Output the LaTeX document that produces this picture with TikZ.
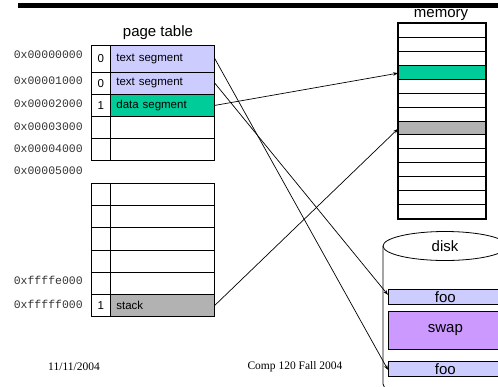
\documentclass[tikz,border=0pt]{standalone}
\usepackage{fontspec}
\setmainfont{Liberation Sans}
\newfontfamily\addrfont{Liberation Mono}
\newfontfamily\footfont{Liberation Serif}
\usepackage{tikz}
\usetikzlibrary{arrows.meta}
\definecolor{textseg}{RGB}{204,204,255}
\definecolor{dataseg}{RGB}{0,204,153}
\definecolor{stackseg}{RGB}{178,178,178}
\definecolor{swapseg}{RGB}{204,153,255}
\tikzset{
  bitcell/.style={draw, line width=0.8pt, anchor=north west, minimum width=19pt, inner sep=0pt, font=\fontsize{11.5}{13}\selectfont},
  segcell/.style={draw, line width=0.8pt, anchor=north west, text width=92pt, inner xsep=6pt, inner ysep=0pt, align=left, font=\fontsize{11.5}{13}\selectfont},
  memcell/.style={draw, line width=0.8pt, anchor=north west, minimum width=87pt, minimum height=13.93pt, inner sep=0pt},
  diskbox/.style={draw, line width=0.8pt, anchor=north west, minimum width=114pt, inner sep=0pt, font=\fontsize{15}{17}\selectfont},
  addr/.style={anchor=east, inner sep=0pt, text=black!80, font=\addrfont\fontsize{11.5}{13}\selectfont},
  title/.style={inner sep=0pt, font=\fontsize{15}{17}\selectfont},
  footer/.style={inner sep=0pt, font=\footfont\fontsize{11.5}{13}\selectfont},
  conn/.style={-{Stealth[length=5pt,width=3.5pt]}, line width=0.7pt}
}
\newcommand{\ptrow}[6] {\node at (91,#2) (#1bit) [bitcell, minimum height=#3pt] {#4};
  \node at (110,#2) (#1) [segcell, minimum height=#3pt, fill=#6] {#5};}
\newcommand{\addrlabel}[3] {\node at (83,#1) (#2) [addr] {#3};}

\begin{document}
\begin{tikzpicture}[x=1pt, y=-1pt]
\useasboundingbox (0,0) rectangle (498,386);
\clip (0,0) rectangle (498,386);

% header bar
\fill (18,2.5) rectangle (498,7.5);

% page table
\node at (158,33) (pt) [title] {page table};
\ptrow{r1}{45}{26.5}{0}{text segment}{textseg};
\ptrow{r2}{71.5}{22.5}{0}{text segment}{textseg};
\ptrow{r3}{94}{22}{1}{data segment}{dataseg};
\ptrow{r4}{116}{22}{}{}{white};
\ptrow{r5}{138}{22}{}{}{white};

\ptrow{q1}{183}{22.17}{}{}{white};
\ptrow{q2}{205.17}{22.17}{}{}{white};
\ptrow{q3}{227.34}{22.17}{}{}{white};
\ptrow{q4}{249.51}{22.17}{}{}{white};
\ptrow{q5}{271.68}{22.17}{}{}{white};
\ptrow{q6}{293.85}{22.17}{1}{stack}{stackseg};

\addrlabel{55}{a0}{0x00000000};
\addrlabel{81}{a1}{0x00001000};
\addrlabel{104}{a2}{0x00002000};
\addrlabel{127}{a3}{0x00003000};
\addrlabel{149}{a4}{0x00004000};
\addrlabel{171}{a5}{0x00005000};
\addrlabel{280}{ae}{0xffffe000};
\addrlabel{304}{af}{0xfffff000};

% memory
\node at (441,15) (mem) [title] {memory};
\foreach \i/\c in {1/white,2/white,3/white,4/dataseg,5/white,6/white,7/white,8/stackseg,9/white,10/white,11/white,12/white,13/white,14/white}
  \node at (398,{23+13.93*(\i-1)}) (m\i) [memcell, fill=\c] {};
\draw [line width=1.6pt] (m1.north west) rectangle (m14.south east);

% disk
\draw [line width=0.8pt] (383,246) -- (383,384) arc [start angle=180, end angle=0, x radius=62, y radius=14.5] -- (507,246);
\draw [line width=0.8pt, fill=white] (445,246) ellipse [x radius=62, y radius=14.5];
\node at (445,246) (disk) [title] {disk};
\node at (388,289) (foo1) [diskbox, minimum height=15pt, fill=textseg] {foo};
\node at (388,311) (swap) [diskbox, minimum height=38pt, fill=swapseg] {swap};
\node at (388,361) (foo2) [diskbox, minimum height=15pt, fill=textseg] {foo};

% mappings
\draw [conn] (r1.east) -- ([yshift=-1pt]foo2.west);
\draw [conn] (r2.east) -- ([yshift=2pt]foo1.west);
\draw [conn] (r3.east) -- ([yshift=-1pt]m4.west);
\draw [conn] (q6.east) -- ([yshift=-1pt]m8.west);

% footer
\node at (74,367) (date) [footer] {11/11/2004};
\node at (295,367) (course) [footer] {Comp 120 Fall 2004};
\end{tikzpicture}
\end{document}
